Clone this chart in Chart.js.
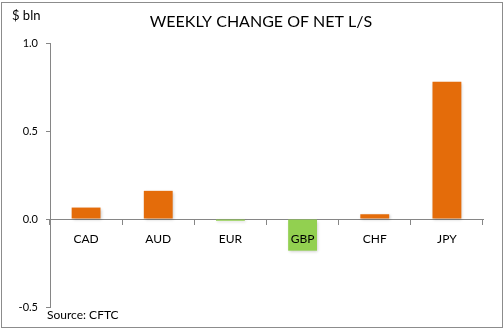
<!DOCTYPE html>
<html>
<head>
<meta charset="utf-8">
<script src="https://cdn.jsdelivr.net/npm/chart.js@4/dist/chart.umd.min.js"></script>
<style>
    html, body { margin: 0; padding: 0; background: #fff; }
    #wrap { position: relative; width: 504px; height: 329px; }
    #frame { position: absolute; left: 1px; top: 2px; width: 500px; height: 324px; border: 1px solid #8c8c8c; pointer-events: none; }
</style>
</head>
<body>
<div id="wrap">
    <canvas id="myChart" width="504" height="329"></canvas>
    <div id="frame"></div>
</div>
<script>
/* data */
const currencies = ['CAD', 'AUD', 'EUR', 'GBP', 'CHF', 'JPY'];
const weeklyChange = [0.065, 0.16, -0.01, -0.18, 0.027, 0.78];
const yTicks = [-0.5, 0.0, 0.5, 1.0];

const orange = '#e46c0a';
const green = '#92d050';
const axisGray = '#868686';

/* extra texts: title, unit, source */
const textPlugin = {
    id: 'texts',
    afterDraw(chart) {
        const ctx = chart.ctx;
        ctx.save();
        ctx.fillStyle = '#000';
        ctx.textBaseline = 'middle';
        ctx.textAlign = 'center';
        ctx.font = '16px Lato';
        ctx.fillText('WEEKLY CHANGE OF NET L/S', 261, 22);
        ctx.textAlign = 'left';
        ctx.font = '13px Lato';
        ctx.fillText('$ bln', 12, 16);
        ctx.font = '12px Lato';
        ctx.fillText('Source: CFTC', 47, 315);
        ctx.restore();
    }
};

/* bar shadow */
const shadowPlugin = {
    id: 'barShadow',
    beforeDatasetsDraw(chart) {
        const ctx = chart.ctx;
        ctx.save();
        ctx.shadowColor = 'rgba(0,0,0,0.22)';
        ctx.shadowBlur = 3;
        ctx.shadowOffsetX = 1;
        ctx.shadowOffsetY = 1;
    },
    afterDatasetsDraw(chart) {
        chart.ctx.restore();
    }
};

const ctx = document.getElementById('myChart').getContext('2d');
const myChart = new Chart(ctx, {
    type: 'bar',
    data: {
        labels: currencies,
        datasets: [{
            data: weeklyChange,
            backgroundColor: weeklyChange.map(v => v < 0 ? green : orange),
            borderWidth: 0,
            categoryPercentage: 1,
            barPercentage: 0.4
        }]
    },
    options: {
        responsive: false,
        animation: false,
        layout: { padding: { top: 43, bottom: 22, right: 21, left: 0 } },
        plugins: {
            legend: { display: false },
            tooltip: { enabled: false }
        },
        scales: {
            x: {
                position: { y: 0 },
                grid: {
                    offset: true,
                    drawOnChartArea: false,
                    tickLength: 5,
                    color: axisGray
                },
                border: { display: true, color: axisGray, width: 1 },
                ticks: {
                    z: 1,
                    color: '#000',
                    font: { family: 'Lato', size: 12 },
                    padding: 8
                }
            },
            y: {
                min: -0.5,
                max: 1.0,
                afterBuildTicks: scale => {
                    scale.ticks = yTicks.map(v => ({ value: v }));
                },
                afterFit: scale => {
                    scale.width = 50;
                },
                grid: {
                    drawOnChartArea: false,
                    tickLength: 4,
                    color: axisGray
                },
                border: { display: true, color: axisGray, width: 1 },
                ticks: {
                    color: '#000',
                    font: { family: 'Lato', size: 11 },
                    padding: 8,
                    callback: v => v.toFixed(1)
                }
            }
        }
    },
    plugins: [shadowPlugin, textPlugin]
});
</script>
</body>
</html>
